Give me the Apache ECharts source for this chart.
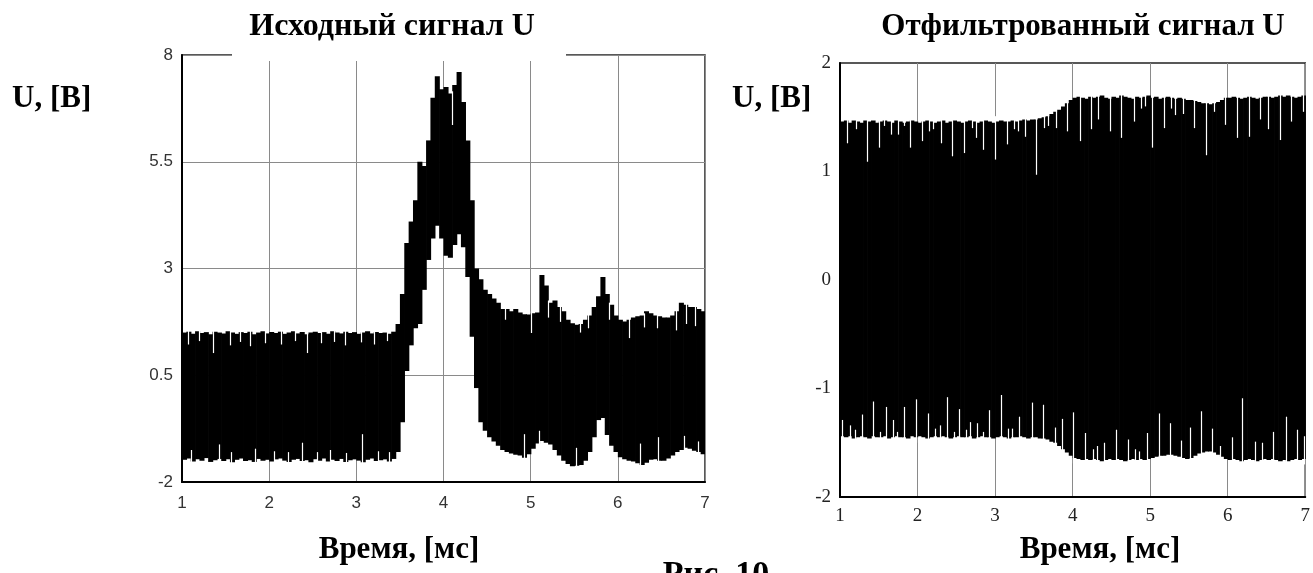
<!DOCTYPE html>
<html>
<head>
<meta charset="utf-8">
<script src="https://cdn.jsdelivr.net/npm/echarts@6/dist/echarts.min.js"></script>
<style>
html,body{margin:0;padding:0;background:#fff;}
#c{width:1313px;height:573px;}
</style>
</head>
<body>
<div id="c"></div>
<script>
// ---------- DATA ----------
const leftTitle = 'Исходный сигнал U';
const rightTitle = 'Отфильтрованный сигнал U';
const yName = 'U, [B]';
const xName = 'Время, [мс]';
const figCaption = 'Рис. 10';

const xTicks = [1, 2, 3, 4, 5, 6, 7];
const leftYTicks = [-2, 0.5, 3, 5.5, 8];
const rightYTicks = [-2, -1, 0, 1, 2];

// signal envelope per 0.05 ms bin starting at 1 ms (upper / lower value in the bin)
const binStart = 1, binStep = 0.05;
const leftHi = [
 1.50,1.52,1.47,1.53,1.49,1.51,1.46,1.52,1.50,1.48,
 1.53,1.50,1.47,1.51,1.49,1.52,1.46,1.50,1.53,1.48,
 1.51,1.49,1.52,1.47,1.50,1.53,1.48,1.51,1.46,1.50,
 1.52,1.49,1.51,1.47,1.53,1.50,1.48,1.52,1.49,1.51,
 1.47,1.50,1.53,1.48,1.51,1.49,1.50,1.47,1.52,
 1.70,2.40,3.60,4.10,4.60,5.50,5.40,6.00,7.00,7.50,7.20,
 7.25,7.10,7.30,7.60,6.90,6.00,4.60,3.00,2.75,2.50,
 2.40,2.30,2.20,2.05,2.05,2.00,2.05,1.97,1.93,1.92,
 1.95,1.97,2.85,2.60,2.20,2.25,2.10,2.00,1.80,1.72,
 1.68,1.70,1.80,1.90,2.10,2.35,2.80,2.40,2.15,1.90,
 1.80,1.76,1.80,1.85,1.88,1.90,2.00,1.95,1.90,1.88,
 1.85,1.85,1.90,2.00,2.20,2.15,2.10,2.10,2.05,2.00
];
const leftLo = [
 -1.48,-1.45,-1.52,-1.47,-1.50,-1.44,-1.53,-1.49,-1.46,-1.51,
 -1.47,-1.54,-1.48,-1.45,-1.51,-1.49,-1.53,-1.46,-1.50,-1.48,
 -1.52,-1.47,-1.45,-1.50,-1.53,-1.48,-1.46,-1.51,-1.49,-1.54,
 -1.47,-1.50,-1.45,-1.52,-1.48,-1.51,-1.46,-1.53,-1.49,-1.47,
 -1.50,-1.54,-1.48,-1.45,-1.51,-1.49,-1.47,-1.52,-1.46,
 -1.30,-0.60,0.60,1.20,1.60,1.70,2.50,3.20,3.70,4.00,3.70,
 3.30,3.25,3.55,3.80,3.50,2.80,1.40,0.20,-0.60,-0.80,
 -0.95,-1.05,-1.15,-1.25,-1.30,-1.33,-1.36,-1.38,-1.43,-1.35,
 -1.22,-1.10,-1.04,-1.08,-1.12,-1.25,-1.38,-1.50,-1.58,-1.63,
 -1.62,-1.60,-1.50,-1.30,-0.95,-0.55,-0.50,-0.90,-1.15,-1.30,
 -1.42,-1.47,-1.50,-1.52,-1.56,-1.60,-1.55,-1.48,-1.47,-1.50,
 -1.50,-1.45,-1.38,-1.30,-1.25,-1.20,-1.22,-1.27,-1.30,-1.35
];
const rightHi = [
 1.46,1.47,1.45,1.47,1.46,1.45,1.47,1.46,1.47,1.45,
 1.46,1.47,1.46,1.45,1.47,1.46,1.45,1.46,1.47,1.46,
 1.45,1.46,1.47,1.46,1.45,1.46,1.47,1.45,1.46,1.47,
 1.46,1.45,1.46,1.47,1.46,1.45,1.46,1.47,1.46,1.45,
 1.46,1.47,1.46,1.46,1.47,1.46,1.47,1.48,1.47,1.48,
 1.48,1.49,1.50,1.51,1.53,1.55,1.57,1.60,1.63,1.66,
 1.68,1.69,1.68,1.67,1.69,1.68,1.69,1.70,1.68,1.67,
 1.69,1.68,1.70,1.69,1.68,1.67,1.69,1.68,1.69,1.70,
 1.68,1.69,1.67,1.68,1.69,1.68,1.67,1.68,1.67,1.66,
 1.66,1.65,1.64,1.63,1.63,1.62,1.63,1.64,1.66,1.68,
 1.68,1.69,1.68,1.67,1.68,1.69,1.68,1.67,1.68,1.69,
 1.69,1.68,1.69,1.70,1.69,1.70,1.69,1.68,1.69,1.70
];
const rightLo = [
 -1.44,-1.45,-1.44,-1.46,-1.45,-1.44,-1.45,-1.46,-1.44,-1.45,
 -1.45,-1.44,-1.46,-1.45,-1.44,-1.45,-1.45,-1.46,-1.44,-1.45,
 -1.44,-1.45,-1.46,-1.45,-1.44,-1.45,-1.44,-1.45,-1.46,-1.45,
 -1.44,-1.45,-1.45,-1.44,-1.46,-1.45,-1.44,-1.45,-1.45,-1.46,
 -1.45,-1.44,-1.45,-1.46,-1.45,-1.45,-1.44,-1.45,-1.46,-1.45,
 -1.45,-1.46,-1.46,-1.47,-1.49,-1.50,-1.53,-1.56,-1.59,-1.62,
 -1.64,-1.65,-1.66,-1.65,-1.66,-1.65,-1.66,-1.67,-1.66,-1.65,
 -1.66,-1.65,-1.66,-1.67,-1.66,-1.65,-1.66,-1.65,-1.66,-1.65,
 -1.64,-1.63,-1.62,-1.62,-1.61,-1.61,-1.62,-1.63,-1.64,-1.65,
 -1.64,-1.62,-1.60,-1.59,-1.58,-1.58,-1.59,-1.61,-1.63,-1.65,
 -1.66,-1.65,-1.66,-1.67,-1.66,-1.65,-1.66,-1.67,-1.66,-1.65,
 -1.66,-1.65,-1.66,-1.67,-1.66,-1.67,-1.66,-1.65,-1.66,-1.65
];

// short single-sample dips into the band: [time ms, value reached]
const leftTopDips = [
 [1.07,1.22],[1.20,1.30],[1.36,1.02],[1.55,1.20],[1.66,1.28],[1.78,1.18],[1.95,1.25],[2.14,1.22],
 [2.30,1.30],[2.43,1.02],[2.60,1.25],[2.74,1.28],[2.87,1.20],[3.05,1.27],[3.20,1.22],[3.35,1.30],
 [4.10,6.36],[4.70,1.80],[5.00,1.49],[5.20,1.85],[5.34,1.75],[5.57,1.50],[5.66,1.60],[5.90,1.80],
 [6.13,1.37],[6.30,1.62],[6.45,1.60],[6.67,1.55],[6.78,1.70],[6.88,1.65]
];
const leftBottomDips = [
 [1.10,-1.25],[1.42,-1.12],[1.56,-1.30],[1.84,-1.22],[2.05,-1.28],[2.22,-1.30],[2.38,-1.08],
 [2.55,-1.30],[2.70,-1.25],[2.88,-1.32],[3.07,-0.88],[3.25,-1.28],[3.38,-1.30],
 [4.92,-0.88],[5.09,-0.80],[5.52,-1.20],[6.26,-1.10],[6.46,-0.95],[6.76,-0.92],[6.92,-1.05]
];
const rightTopDips = [
 [1.09,1.26],[1.20,1.39],[1.35,1.09],[1.50,1.22],[1.57,1.42],[1.66,1.34],[1.75,1.34],[1.82,1.42],
 [1.90,1.22],[2.06,1.28],[2.15,1.37],[2.20,1.39],[2.30,1.26],[2.45,1.14],[2.60,1.17],[2.70,1.40],
 [2.75,1.31],[2.84,1.20],[3.00,1.11],[3.15,1.25],[3.24,1.39],[3.30,1.37],[3.39,1.32],[3.53,0.97],
 [3.63,1.40],[3.68,1.42],[3.79,1.40],[3.93,1.37],[4.09,1.28],[4.24,1.39],[4.33,1.48],[4.48,1.37],
 [4.63,1.31],[4.79,1.46],[4.88,1.58],[4.93,1.60],[5.03,1.22],[5.18,1.40],[5.27,1.58],[5.32,1.52],
 [5.42,1.53],[5.57,1.40],[5.72,1.15],[5.82,1.55],[5.97,1.43],[6.12,1.31],[6.28,1.32],[6.42,1.48],
 [6.52,1.39],[6.67,1.29],[6.82,1.46],[6.97,1.55]
];
const rightBottomDips = [
 [1.03,-1.29],[1.13,-1.34],[1.19,-1.38],[1.29,-1.24],[1.43,-1.12],[1.52,-1.40],[1.59,-1.17],
 [1.68,-1.29],[1.73,-1.40],[1.83,-1.17],[1.98,-1.10],[2.13,-1.23],[2.23,-1.37],[2.29,-1.34],
 [2.38,-1.08],[2.47,-1.40],[2.53,-1.19],[2.62,-1.38],[2.68,-1.31],[2.77,-1.32],[2.84,-1.40],
 [2.92,-1.20],[3.08,-1.06],[3.17,-1.37],[3.22,-1.37],[3.31,-1.26],[3.47,-1.13],[3.62,-1.15],
 [3.77,-1.36],[3.86,-1.28],[4.00,-1.22],[4.16,-1.41],[4.26,-1.56],[4.31,-1.53],[4.41,-1.50],
 [4.56,-1.38],[4.71,-1.47],[4.80,-1.56],[4.85,-1.58],[4.96,-1.41],[5.11,-1.23],[5.26,-1.32],
 [5.40,-1.48],[5.51,-1.36],[5.66,-1.21],[5.80,-1.37],[5.90,-1.53],[6.05,-1.45],[6.19,-1.09],
 [6.35,-1.49],[6.44,-1.50],[6.59,-1.40],[6.75,-1.26],[6.89,-1.38],[6.99,-1.44]
];

// ---------- BUILD ----------
function bins(hi, lo) {
  return hi.map((h, i) => [binStart + i * binStep, lo[i], h]);
}
function bandItem(params, api) {
  const x0 = api.value(0), lo = api.value(1), hi = api.value(2);
  const a = api.coord([x0, hi]);
  const b = api.coord([x0 + binStep, lo]);
  return {
    type: 'rect',
    shape: { x: a[0], y: a[1], width: b[0] - a[0] + 0.7, height: b[1] - a[1] },
    style: { fill: '#000' }
  };
}
function dipRenderer(hiArr, loArr, top) {
  return function (params, api) {
    const x = api.value(0), tip = api.value(1);
    const idx = Math.min(hiArr.length - 1, Math.floor((x - binStart) / binStep));
    const edge = top ? hiArr[idx] + 0.05 : loArr[idx] - 0.05;
    const a = api.coord([x, tip]);
    const b = api.coord([x, edge]);
    return {
      type: 'line',
      shape: { x1: Math.round(a[0]) + 0.5, y1: a[1], x2: Math.round(a[0]) + 0.5, y2: b[1] },
      style: { stroke: '#fff', lineWidth: 1.2 }
    };
  };
}

const tickFontL = { fontFamily: 'Liberation Sans', fontSize: 17, color: '#333' };
const tickFontR = { fontFamily: 'Liberation Serif', fontSize: 19, color: '#222' };

function bold(x, y, text, align, size) {
  return {
    type: 'text', z: 101,
    style: {
      x: x, y: y, text: text, fill: '#000',
      fontFamily: 'Liberation Serif', fontWeight: 'bold', fontSize: size || 31,
      textAlign: align, textVerticalAlign: 'middle'
    }
  };
}

function xAxisCfg(gi, font, margin) {
  return {
    type: 'value', gridIndex: gi, min: xTicks[0], max: xTicks[xTicks.length - 1], interval: 1,
    axisLine: { show: true, onZero: false, lineStyle: { color: '#000', width: 2 } },
    axisTick: { show: false },
    axisLabel: Object.assign({ margin: margin }, font),
    splitLine: { show: true, lineStyle: { color: '#8a8a8a', width: 1 } }
  };
}

const chart = echarts.init(document.getElementById('c'), null, { renderer: 'canvas' });
chart.setOption({
  backgroundColor: '#fff',
  animation: false,
  grid: [
    { left: 182, top: 55, width: 523, height: 427, show: true, borderColor: '#222', borderWidth: 1.5, backgroundColor: '#fff' },
    { left: 840, top: 63, width: 469, height: 434, show: true, borderColor: '#222', borderWidth: 1.5, backgroundColor: '#fff' }
  ],
  xAxis: [xAxisCfg(0, tickFontL, 13), xAxisCfg(1, tickFontR, 10)],
  yAxis: [
    {
      type: 'value', gridIndex: 0, min: leftYTicks[0], max: leftYTicks[leftYTicks.length - 1],
      interval: leftYTicks[1] - leftYTicks[0],
      axisLine: { show: true, onZero: false, lineStyle: { color: '#000', width: 2 } },
      axisTick: { show: false },
      axisLabel: Object.assign({ margin: 9 }, tickFontL),
      splitLine: { show: true, lineStyle: { color: '#8a8a8a', width: 1 } }
    },
    {
      type: 'value', gridIndex: 1, min: rightYTicks[0], max: rightYTicks[rightYTicks.length - 1],
      interval: rightYTicks[1] - rightYTicks[0],
      axisLine: { show: true, onZero: false, lineStyle: { color: '#000', width: 2 } },
      axisTick: { show: false },
      axisLabel: Object.assign({ margin: 9 }, tickFontR),
      splitLine: { show: false }
    }
  ],
  series: [
    { type: 'custom', xAxisIndex: 0, yAxisIndex: 0, renderItem: bandItem, data: bins(leftHi, leftLo), clip: true, z: 2 },
    { type: 'custom', xAxisIndex: 1, yAxisIndex: 1, renderItem: bandItem, data: bins(rightHi, rightLo), clip: true, z: 2 },
    { type: 'custom', xAxisIndex: 0, yAxisIndex: 0, renderItem: dipRenderer(leftHi, leftLo, true), data: leftTopDips, clip: true, z: 3 },
    { type: 'custom', xAxisIndex: 0, yAxisIndex: 0, renderItem: dipRenderer(leftHi, leftLo, false), data: leftBottomDips, clip: true, z: 3 },
    { type: 'custom', xAxisIndex: 1, yAxisIndex: 1, renderItem: dipRenderer(rightHi, rightLo, true), data: rightTopDips, clip: true, z: 3 },
    { type: 'custom', xAxisIndex: 1, yAxisIndex: 1, renderItem: dipRenderer(rightHi, rightLo, false), data: rightBottomDips, clip: true, z: 3 }
  ],
  graphic: [
    { type: 'rect', z: 100, shape: { x: 232, y: 6, width: 334, height: 55 }, style: { fill: '#fff' } },
    bold(392, 27, leftTitle, 'center', 32),
    bold(1083, 27, rightTitle, 'center'),
    bold(12, 99, yName, 'left'),
    bold(732, 99, yName, 'left'),
    bold(399, 550, xName, 'center'),
    bold(1100, 550, xName, 'center'),
    bold(716, 575, figCaption, 'center', 34)
  ]
});
</script>
</body>
</html>
